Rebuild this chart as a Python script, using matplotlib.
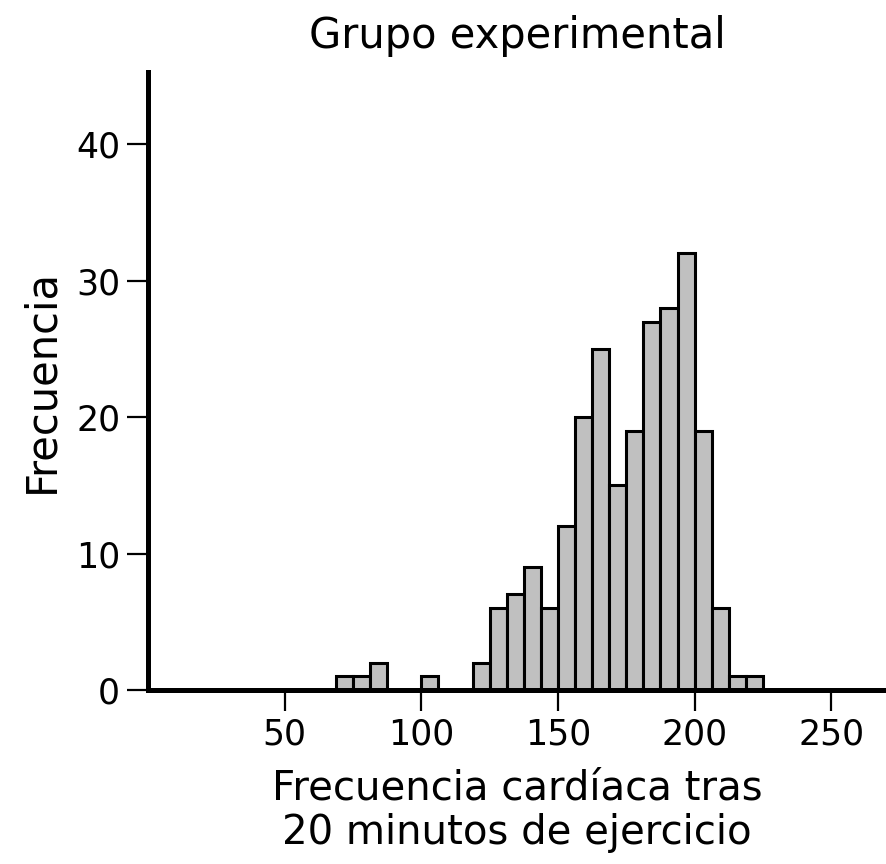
import numpy as np
import matplotlib
matplotlib.use("Agg")
import matplotlib.pyplot as plt

# bin left edges (width 6.25) and counts
bin_width = 6.25
bin_left = [68.75, 75, 81.25, 100, 118.75, 125, 131.25, 137.5, 143.75, 150,
            156.25, 162.5, 168.75, 175, 181.25, 187.5, 193.75, 200, 206.25,
            212.5, 218.75]
counts = [1, 1, 2, 1, 2, 6, 7, 9, 6, 12,
          20, 25, 15, 19, 27, 28, 32, 19, 6,
          1, 1]
x_ticks = [50, 100, 150, 200, 250]
y_ticks = [0, 10, 20, 30, 40]

plt.rcParams['font.family'] = 'DejaVu Sans'

fig = plt.figure(figsize=(8.86, 8.64), dpi=100)
ax = fig.add_axes([0.167, 0.2014, 0.833, 0.7153])

ax.bar(bin_left, counts, width=bin_width, align='edge',
       color='#c0c0c0', edgecolor='black', linewidth=2.2, zorder=2)

ax.set_xlim(0, 270)
ax.set_ylim(0, 45.3)
ax.set_xticks(x_ticks)
ax.set_yticks(y_ticks)

for s in ['top', 'right']:
    ax.spines[s].set_visible(False)
for s in ['left', 'bottom']:
    ax.spines[s].set_linewidth(3.6)
    ax.spines[s].set_zorder(3)

ax.tick_params(axis='both', direction='out', length=15, width=1.6,
               labelsize=25, pad=5)

ax.set_title('Grupo experimental', fontsize=30, pad=17)
ax.set_xlabel('Frecuencia cardíaca tras\n20 minutos de ejercicio',
              fontsize=29, labelpad=12, linespacing=1.15)
ax.set_ylabel('Frecuencia', fontsize=30, labelpad=10)

fig.savefig('out.png', dpi=100)
